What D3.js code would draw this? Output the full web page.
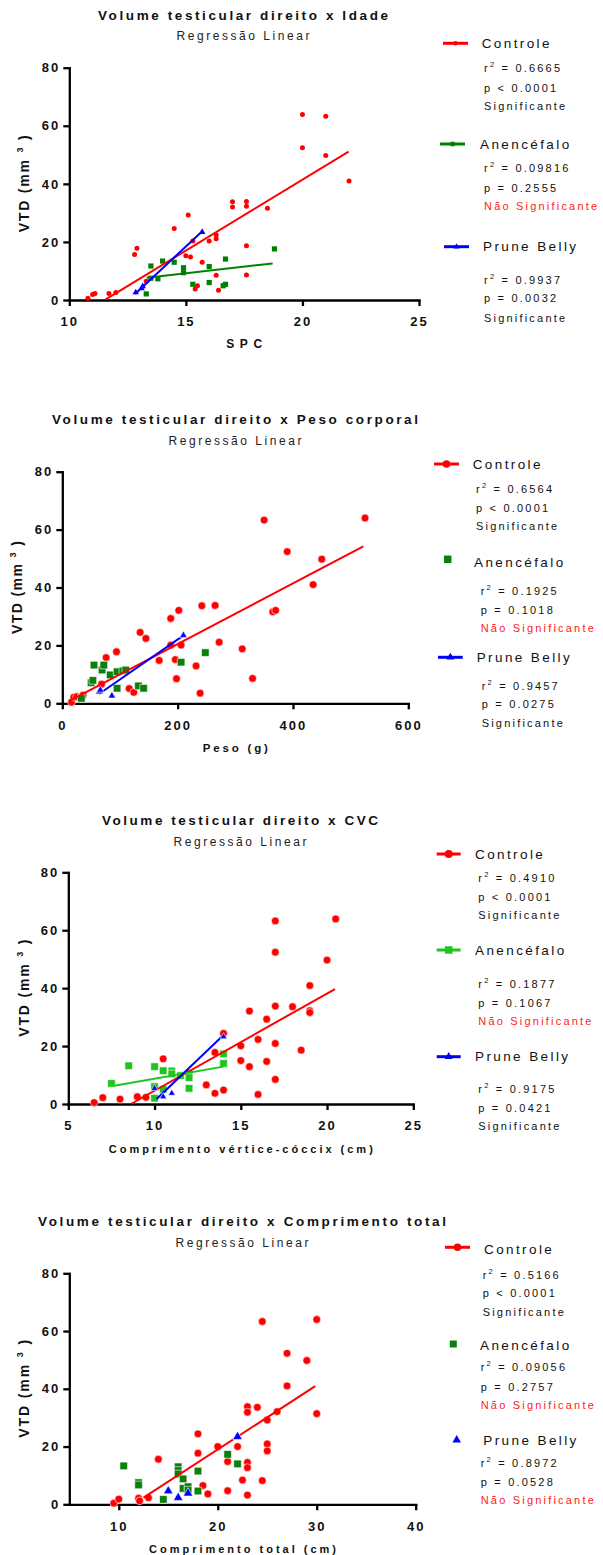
<!DOCTYPE html>
<meta charset="utf-8">
<script src="https://cdnjs.cloudflare.com/ajax/libs/d3/7.8.5/d3.min.js"></script>
<style>
  body { margin: 0; background: #fff; }
  text { font-family: "Liberation Sans", Arial, sans-serif; }
</style>
<body>
<script>

// ---------- data ----------
var seriesNames = ["Controle", "Anencéfalo", "Prune Belly"];
var yTicks = [0, 20, 40, 60, 80];

// Idade (SPC)
var idadeTicks = [10, 15, 20, 25];
var idadeControle = [[10.8,0.6],[11.0,1.9],[11.1,2.2],[11.7,2.2],[12.0,2.6],[12.8,15.7],[12.9,17.8],[13.3,6.5],
  [14.5,24.6],[15.1,29.3],[15.3,20.3],[15.0,15.2],[15.2,14.8],[15.4,3.8],[15.5,4.9],[15.7,13.0],[16.0,20.3],
  [16.3,22.4],[16.3,21.1],[16.3,8.5],[16.4,3.4],[17.0,33.8],[17.0,32.0],[17.6,33.9],[17.6,32.3],[17.6,18.7],
  [17.6,8.6],[18.5,31.6],[20.0,63.9],[20.0,52.4],[21.0,63.3],[21.0,49.8],[22.0,41.0]];
var idadeAnencefalo = [[13.3,2.1],[13.5,11.7],[13.5,7.5],[13.8,7.3],[14.0,13.4],[14.5,13.0],[14.9,11.1],[14.9,9.4],
  [15.3,5.4],[16.0,11.5],[16.0,6.0],[16.6,4.9],[16.7,5.4],[16.7,14.1],[18.8,17.6]];
var idadePrune = [[12.85,2.6],[13.1,4.0],[13.15,4.7],[15.7,23.4]];
var idadeFitControle = [[11.56,0.2],[21.98,51.1]];
var idadeFitAnencefalo = [[13.32,7.7],[18.72,12.6]];
var idadeFitPrune = [[12.82,2.1],[15.68,23.5]];
var idadeR2 = ["0.6665", "0.09816", "0.9937"];
var idadeP = ["< 0.0001", "= 0.2555", "= 0.0032"];
var idadeSig = [true, false, true];

// Peso corporal (g)
var pesoTicks = [0, 200, 400, 600];
var pesoControle = [[16,0.4],[20,2.1],[25,2.3],[36,2.8],[68,6.6],[76,15.8],[94,17.8],[116,5.1],[124,3.8],[135,24.5],
  [145,22.4],[168,14.8],[188,29.3],[188,20.1],[196,15.1],[198,8.5],[202,32.1],[206,20.1],[232,12.9],[239,3.5],
  [242,33.7],[265,33.8],[272,21.1],[312,18.8],[330,8.6],[350,63.3],[365,31.6],[370,32.1],[390,52.4],[435,41.0],
  [450,49.8],[525,64.0]];
var pesoAnencefalo = [[33,1.7],[50,7.1],[53,7.9],[55,13.2],[69,11.5],[72,13.2],[83,9.8],[95,10.9],[95,5.2],
  [105,11.2],[110,11.5],[132,6.0],[141,5.2],[206,14.2],[248,17.5]];
var pesoPrune = [[64,4.0],[66,4.6],[86,2.6],[210,23.5]];
var pesoFitControle = [[13.3,0.9],[522,54.2]];
var pesoFitPrune = [[63.6,3.2],[209.8,23.4]];
var pesoR2 = ["0.6564", "0.1925", "0.9457"];
var pesoP = ["< 0.0001", "= 0.1018", "= 0.0275"];
var pesoSig = [true, false, true];

// CVC (cm)
var cvcTicks = [5, 10, 15, 20, 25];
var cvcControle = [[6.5,0.5],[7.0,2.2],[8.0,1.7],[9.0,2.5],[9.5,2.3],[10.5,15.6],[13.0,6.6],[13.5,3.7],[13.5,17.8],
  [14.0,24.4],[14.0,4.8],[15.0,20.1],[15.0,15.0],[15.5,32.1],[15.5,12.9],[16.0,22.3],[16.0,3.3],[16.5,29.3],
  [16.5,14.7],[17.0,63.2],[17.0,52.4],[17.0,33.8],[17.0,20.9],[17.0,8.5],[18.0,33.6],[18.5,18.6],[19.0,40.9],
  [19.0,32.2],[19.0,31.6],[20.0,49.7],[20.5,63.9]];
var cvcAnencefalo = [[7.5,7.1],[8.5,13.2],[10.0,12.9],[10.0,6.0],[10.0,2.0],[10.5,11.5],[10.5,5.1],[11.0,11.4],
  [11.0,10.4],[11.5,9.8],[12.0,10.6],[12.0,9.1],[12.0,5.4],[14.0,17.3],[14.0,14.0]];
var cvcPrune = [[10.0,5.4],[10.5,2.5],[11.0,3.7],[14.0,23.2]];
var cvcFitControle = [[8.63,0.0],[20.46,39.7]];
var cvcFitAnencefalo = [[7.67,6.3],[13.99,12.9]];
var cvcFitPrune = [[10.12,1.7],[14.0,23.8]];
var cvcR2 = ["0.4910", "0.1877", "0.9175"];
var cvcP = ["< 0.0001", "= 0.1067", "= 0.0421"];
var cvcSig = [true, false, true];

// Comprimento total (cm)
var totalTicks = [10, 20, 30, 40];
var totalControle = [[9.5,0.4],[10.0,1.8],[12.0,2.1],[12.1,1.2],[13.0,2.3],[14.0,15.6],[18.0,24.4],[18.0,17.7],
  [18.5,6.5],[19.0,3.6],[20.0,20.0],[21.0,14.8],[21.0,4.7],[22.0,20.0],[22.5,8.4],[23.0,33.8],[23.0,31.9],
  [23.0,14.5],[23.0,12.7],[23.0,3.2],[24.0,33.6],[24.5,63.3],[24.5,8.2],[25.0,29.2],[25.0,20.9],[25.0,18.5],
  [26.0,32.1],[27.0,52.3],[27.0,41.0],[29.0,49.8],[30.0,64.0],[30.0,31.4]];
var totalAnencefalo = [[10.5,13.3],[12.0,7.5],[12.0,6.7],[14.5,1.7],[16.0,13.0],[16.0,11.7],[16.0,10.5],[16.5,8.8],
  [16.5,5.5],[17.0,6.1],[17.0,4.9],[18.0,11.5],[18.0,4.6],[21.0,17.3],[22.0,14.0]];
var totalPrune = [[15.0,4.6],[16.0,2.3],[17.0,3.8],[22.0,23.4]];
var totalFitControle = [[12.5,2.3],[29.85,40.9]];
var totalR2 = ["0.5166", "0.09056", "0.8972"];
var totalP = ["< 0.0001", "= 0.2757", "= 0.0528"];
var totalSig = [true, false, false];

// ---------- layout ----------
var panels = [
  { title: "Volume testicular direito x Idade", titleW: 290, cx: 243, titleY: 15, subY: 36,
    xLabel: "SPC", xLabelY: 344, xLabelW: 36, xLabelSize: 12,
    left: 69.3, right: 419, top: 67.7, bottom: 300, ylabX: 24, ylabW: 97,
    xDomain: [10, 25], xTicks: idadeTicks,
    series: [idadeControle, idadeAnencefalo, idadePrune],
    fits: [idadeFitControle, idadeFitAnencefalo, idadeFitPrune],
    r2: idadeR2, p: idadeP, sig: idadeSig,
    colors: ["#ff0000", "#008000", "#0000ff"], outline: "none",
    sizes: [2.5, 5.2, 6.5], legendSizes: [2.2, 4.5, 6],
    legend: [
      { line: [443, 468], ly: 43.3, nx: 481.7, sx: 484, sy: [68, 87.7, 106] },
      { line: [440, 465], ly: 144, nx: 480, sx: 484, sy: [168, 187.7, 205.7] },
      { line: [444, 469], ly: 246.7, nx: 483, sx: 484, sy: [280, 298, 317.7] }
    ] },
  { title: "Volume testicular direito x Peso corporal", titleW: 366, cx: 235, titleY: 419.3, subY: 440.7,
    xLabel: "Peso (g)", xLabelY: 747.7, xLabelW: 65, xLabelSize: 11.5,
    left: 62.3, right: 408.3, top: 471.7, bottom: 703.3, ylabX: 17.5, ylabW: 93,
    xDomain: [0, 600], xTicks: pesoTicks,
    series: [pesoControle, pesoAnencefalo, pesoPrune],
    fits: [pesoFitControle, null, pesoFitPrune],
    r2: pesoR2, p: pesoP, sig: pesoSig,
    colors: ["#ff0000", "#0b7f0b", "#0000ff"], outline: "#fff",
    sizes: [3.9, 7.6, 7.5], legendSizes: [3.8, 7.5, 8],
    legend: [
      { line: [434, 459], ly: 464, nx: 472.7, sx: 476, sy: [489.3, 508.3, 526] },
      { mx: 447.7, ly: 559.3, ny: 562.7, nx: 474, sx: 480.7, sy: [590.7, 610, 628.3] },
      { line: [438, 462.7], ly: 657.3, nx: 476.7, sx: 481.7, sy: [686, 704.3, 723.3] }
    ] },
  { title: "Volume testicular direito x CVC", titleW: 276, cx: 240, titleY: 820, subY: 841.7,
    xLabel: "Comprimento vértice-cóccix (cm)", xLabelY: 1149, xLabelW: 264, xLabelSize: 11,
    left: 68.3, right: 413.3, top: 872.3, bottom: 1104, ylabX: 24, ylabW: 97,
    xDomain: [5, 25], xTicks: cvcTicks,
    series: [cvcControle, cvcAnencefalo, cvcPrune],
    fits: [cvcFitControle, cvcFitAnencefalo, cvcFitPrune],
    r2: cvcR2, p: cvcP, sig: cvcSig,
    colors: ["#ff0000", "#1fc41f", "#0000ff"], outline: "#fff",
    sizes: [3.9, 7.6, 7], legendSizes: [4, 7.5, 8],
    legend: [
      { line: [436.7, 460.7], ly: 854, nx: 475, sx: 478.3, sy: [878.3, 897.3, 915] },
      { line: [436.7, 460.7], ly: 950, nx: 475, sx: 478.3, sy: [984, 1002.7, 1021] },
      { line: [436.7, 460.7], ly: 1056.7, nx: 475, sx: 478.3, sy: [1089.3, 1107.7, 1126] }
    ] },
  { title: "Volume testicular direito x Comprimento total", titleW: 408, cx: 242, titleY: 1221.7, subY: 1242.7,
    xLabel: "Comprimento total (cm)", xLabelY: 1549, xLabelW: 187, xLabelSize: 11,
    left: 69.3, right: 415.7, top: 1273.3, bottom: 1504.3, ylabX: 24, ylabW: 98,
    xDomain: [5, 40], xTicks: totalTicks,
    series: [totalControle, totalAnencefalo, totalPrune],
    fits: [totalFitControle, null, null],
    r2: totalR2, p: totalP, sig: totalSig,
    colors: ["#ff0000", "#0b7f0b", "#0000ff"], outline: "#fff",
    sizes: [3.9, 7.6, 9.5], legendSizes: [3.8, 7, 8.5],
    legend: [
      { line: [445, 470], ly: 1247.3, ny: 1249.3, nx: 484, sx: 482.7, sy: [1275, 1293.3, 1311.7] },
      { mx: 453.3, ly: 1344, ny: 1345, nx: 480, sx: 480.7, sy: [1367.3, 1386.7, 1405] },
      { mx: 456.7, ly: 1440, nx: 483.3, sx: 480.7, sy: [1462.7, 1482.3, 1500] }
    ] }
];

// circle: radius, square: side, triangle: side
function symbolFor(i, dim) {
  if (i == 0) return d3.symbol().type(d3.symbolCircle).size(Math.PI * dim * dim)();
  if (i == 1) return d3.symbol().type(d3.symbolSquare).size(dim * dim)();
  return d3.symbol().type(d3.symbolTriangle).size(Math.sqrt(3) / 4 * dim * dim)();
}

var svg = d3.select("body").append("svg")
    .attr("width", 603)
    .attr("height", 1555);

panels.forEach(function(p) { drawPanel(p); });

function drawPanel(p) {
  var g = svg.append("g");

  var x = d3.scaleLinear().domain(p.xDomain).range([p.left, p.right]);
  var y = d3.scaleLinear().domain([0, 80]).range([p.bottom, p.top]);

  // titles
  g.append("text")
      .attr("x", p.cx).attr("y", p.titleY).attr("dy", "0.35em")
      .attr("text-anchor", "middle")
      .attr("font-size", 13.5).attr("font-weight", "bold").attr("fill", "#111")
      .attr("textLength", p.titleW).attr("lengthAdjust", "spacing")
      .text(p.title);
  g.append("text")
      .attr("x", p.cx).attr("y", p.subY).attr("dy", "0.35em")
      .attr("text-anchor", "middle")
      .attr("font-size", 12).attr("fill", "#222")
      .attr("textLength", 133).attr("lengthAdjust", "spacing")
      .text("Regressão Linear");

  // axes
  var gx = g.append("g")
      .attr("transform", "translate(0," + p.bottom + ")")
      .call(d3.axisBottom(x).tickValues(p.xTicks).tickSize(6).tickSizeOuter(0).tickPadding(11));
  var gy = g.append("g")
      .attr("transform", "translate(" + p.left + ",0)")
      .call(d3.axisLeft(y).tickValues(yTicks).tickSize(6).tickSizeOuter(0).tickPadding(3));
  styleAxis(gx);
  styleAxis(gy);

  // axis labels
  g.append("text")
      .attr("x", (p.left + p.right) / 2).attr("y", p.xLabelY).attr("dy", "0.35em")
      .attr("text-anchor", "middle")
      .attr("font-size", p.xLabelSize).attr("font-weight", "bold").attr("fill", "#111")
      .attr("textLength", p.xLabelW).attr("lengthAdjust", "spacing")
      .text(p.xLabel);
  var yl = g.append("text")
      .attr("transform", "translate(" + p.ylabX + "," + (p.top + p.bottom) / 2 + ") rotate(-90)")
      .attr("dy", "0.35em")
      .attr("text-anchor", "middle")
      .attr("font-size", 14).attr("font-weight", "bold").attr("fill", "#111")
      .attr("textLength", p.ylabW).attr("lengthAdjust", "spacing");
  yl.append("tspan").text("VTD (mm ");
  yl.append("tspan").attr("font-size", 9).attr("dy", -6).text("3");
  yl.append("tspan").attr("dy", 6).text(" )");

  // points: controle and anencefalo first, then fit lines, then prune belly
  var line = d3.line().x(function(d) { return x(d[0]); }).y(function(d) { return y(d[1]); });

  function drawPoints(i) {
    g.append("g").selectAll("path")
      .data(p.series[i])
      .enter()
      .append("path")
        .attr("d", symbolFor(i, p.sizes[i]))
        .attr("transform", function(d) { return "translate(" + x(d[0]) + "," + y(d[1]) + ")"; })
        .attr("fill", p.colors[i])
        .attr("stroke", p.outline)
        .attr("stroke-width", 0.6);
  }

  drawPoints(0);
  drawPoints(1);
  p.fits.forEach(function(f, i) {
    if (!f) return;
    g.append("path")
      .datum(f)
      .attr("d", line)
      .attr("stroke", p.colors[i])
      .attr("stroke-width", 2)
      .attr("fill", "none");
  });
  drawPoints(2);

  // legend
  p.legend.forEach(function(e, i) {
    var col = p.colors[i];
    var mx = e.line ? (e.line[0] + e.line[1]) / 2 : e.mx;
    if (e.line) {
      g.append("line")
        .attr("x1", e.line[0]).attr("x2", e.line[1])
        .attr("y1", e.ly).attr("y2", e.ly)
        .attr("stroke", col).attr("stroke-width", 3);
    }
    g.append("path")
      .attr("d", symbolFor(i, p.legendSizes[i]))
      .attr("transform", "translate(" + mx + "," + e.ly + ")")
      .attr("fill", col);

    g.append("text")
      .attr("x", e.nx).attr("y", e.ny || e.ly).attr("dy", "0.35em")
      .attr("font-size", 13.5).attr("letter-spacing", 2.4).attr("fill", "#111")
      .text(seriesNames[i]);

    var t = g.append("text")
      .attr("x", e.sx).attr("y", e.sy[0]).attr("dy", "0.35em")
      .attr("font-size", 11).attr("letter-spacing", 2.2).attr("fill", "#111");
    t.append("tspan").text("r");
    t.append("tspan").attr("font-size", 7.5).attr("dy", -5).text("2");
    t.append("tspan").attr("dy", 5).text(" = " + p.r2[i]);

    g.append("text")
      .attr("x", e.sx).attr("y", e.sy[1]).attr("dy", "0.35em")
      .attr("font-size", 11).attr("letter-spacing", 2.2).attr("fill", "#111")
      .text("p " + p.p[i]);

    g.append("text")
      .attr("x", e.sx).attr("y", e.sy[2]).attr("dy", "0.35em")
      .attr("font-size", 11).attr("letter-spacing", 2.2)
      .attr("fill", p.sig[i] ? "#111" : "#ff1a1a")
      .text(p.sig[i] ? "Significante" : "Não Significante");
  });
}

function styleAxis(a) {
  a.attr("font-family", null).attr("font-size", null);
  a.select(".domain")
    .attr("stroke", "#000").attr("stroke-width", 2.3).attr("stroke-linecap", "square");
  a.selectAll(".tick line")
    .attr("stroke", "#000").attr("stroke-width", 2.3);
  a.selectAll(".tick text")
    .attr("font-size", 13).attr("font-weight", "bold")
    .attr("letter-spacing", 2).attr("fill", "#111");
}

</script>
</body>
